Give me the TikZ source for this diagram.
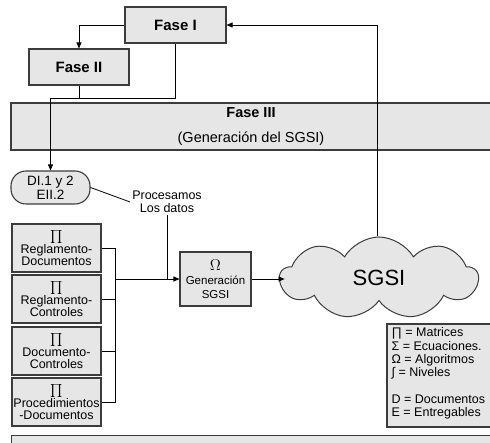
\documentclass[tikz,border=0pt]{standalone}
\usepackage{fontspec}
\usepackage{graphicx}
\setmainfont{Liberation Sans}
\usetikzlibrary{arrows.meta,shapes.symbols}
\definecolor{boxfill}{HTML}{E6E6E6}
\definecolor{edge}{HTML}{3C3C3C}
\newcommand{\prodsym}{\scalebox{1.3}{$\prod$}}

\begin{document}
\begin{tikzpicture}[x=1pt,y=-1pt,
  font=\fontsize{12.5}{13}\selectfont,
  box/.style={draw=edge,line width=1.1pt,fill=boxfill,inner sep=0pt,align=center},
  title/.style={font=\fontsize{15}{18}\selectfont\bfseries},
  matbox/.style={box,minimum width=89pt,minimum height=48pt,
    font=\fontsize{12.5}{12.5}\selectfont},
  wire/.style={draw=black,line width=0.8pt},
  arr/.style={wire,-{Triangle[length=6pt,width=5pt]}}]
\useasboundingbox (0,0) rectangle (490,443);

% phases
\node[box,title,minimum width=101pt,minimum height=36pt] (f1) at (175.5,25) {Fase I};
\node[box,title,minimum width=100pt,minimum height=36pt] (f2) at (79,67) {Fase II};
\node[box,minimum width=480pt,minimum height=47pt,font=\fontsize{14.5}{25}\selectfont]
  (f3) at (251,126.5) {{\bfseries Fase III}\\(Generación del SGSI)};

% inputs
\node[box,rounded corners=15pt,minimum width=79pt,minimum height=33pt,
  font=\fontsize{13.5}{14}\selectfont] (di) at (50.5,187.5) {DI.1 y 2\\EII.2};
\node[align=center,inner sep=2pt] (proc) at (167,202) {Procesamos\\Los datos};

\node[matbox] (b1) at (56.5,248) {\prodsym\\Reglamento-\\Documentos};
\node[matbox] (b2) at (56.5,299) {\prodsym\\Reglamento-\\Controles};
\node[matbox] (b3) at (56.5,351) {\prodsym\\Documento-\\Controles};
\node[matbox] (b4) at (56.5,402) {\prodsym\\Procedimientos\\-Documentos};

\node[box,minimum width=71pt,minimum height=54pt,font=\fontsize{11.5}{14}\selectfont]
  (om) at (215.5,279) {\scalebox{1.3}{$\Omega$}\\Generación\\SGSI};

\node[cloud,draw=edge,fill=boxfill,line width=1pt,cloud puffs=9,cloud puff arc=120,
  aspect=2.5,minimum width=198pt,minimum height=82pt,inner sep=0pt,
  font=\fontsize{22}{24}\selectfont] (cloud) at (379,278) {SGSI};

% legend
\node[box,minimum width=104pt,minimum height=103pt] (leg) at (439,375.5) {};
\node[anchor=north west,align=left,inner sep=0pt,font=\fontsize{12.5}{13.3}\selectfont]
  (legtext) at ([xshift=5pt,yshift=-4pt]leg.north west)
  {∏ = Matrices\\Σ = Ecuaciones.\\Ω = Algoritmos\\∫ = Niveles\\[13.3pt]D = Documentos\\E = Entregables};

% footer band
\node[box,anchor=north west,minimum width=480pt,minimum height=20pt] (foot) at (11,435) {};

% connectors
\coordinate (j1) at (50.5,98);
\draw[arr] (f1.west) -| (f2.north);
\draw[wire] (f1.south) |- (j1);
\draw[wire] (f2.south) -- (f2.south |- j1);
\draw[arr] (j1) -- (di.north);
\draw[arr] ([xshift=-2pt]cloud.north) |- (f1.east);

\draw[wire] (di.east) -- (proc.west);
\draw[wire] (proc.south) -- (proc.south |- om.west);

\draw[wire] (b1.east) -- ++(14,0) coordinate (bus) |- (b4.east);
\draw[wire] (b2.east) -- (b2.east -| bus);
\draw[wire] (b3.east) -- (b3.east -| bus);
\draw[arr] (om.west -| bus) -- (om.west);
\draw[arr] (om.east) -- ([xshift=6pt]cloud.west |- om.east);
\end{tikzpicture}
\end{document}
